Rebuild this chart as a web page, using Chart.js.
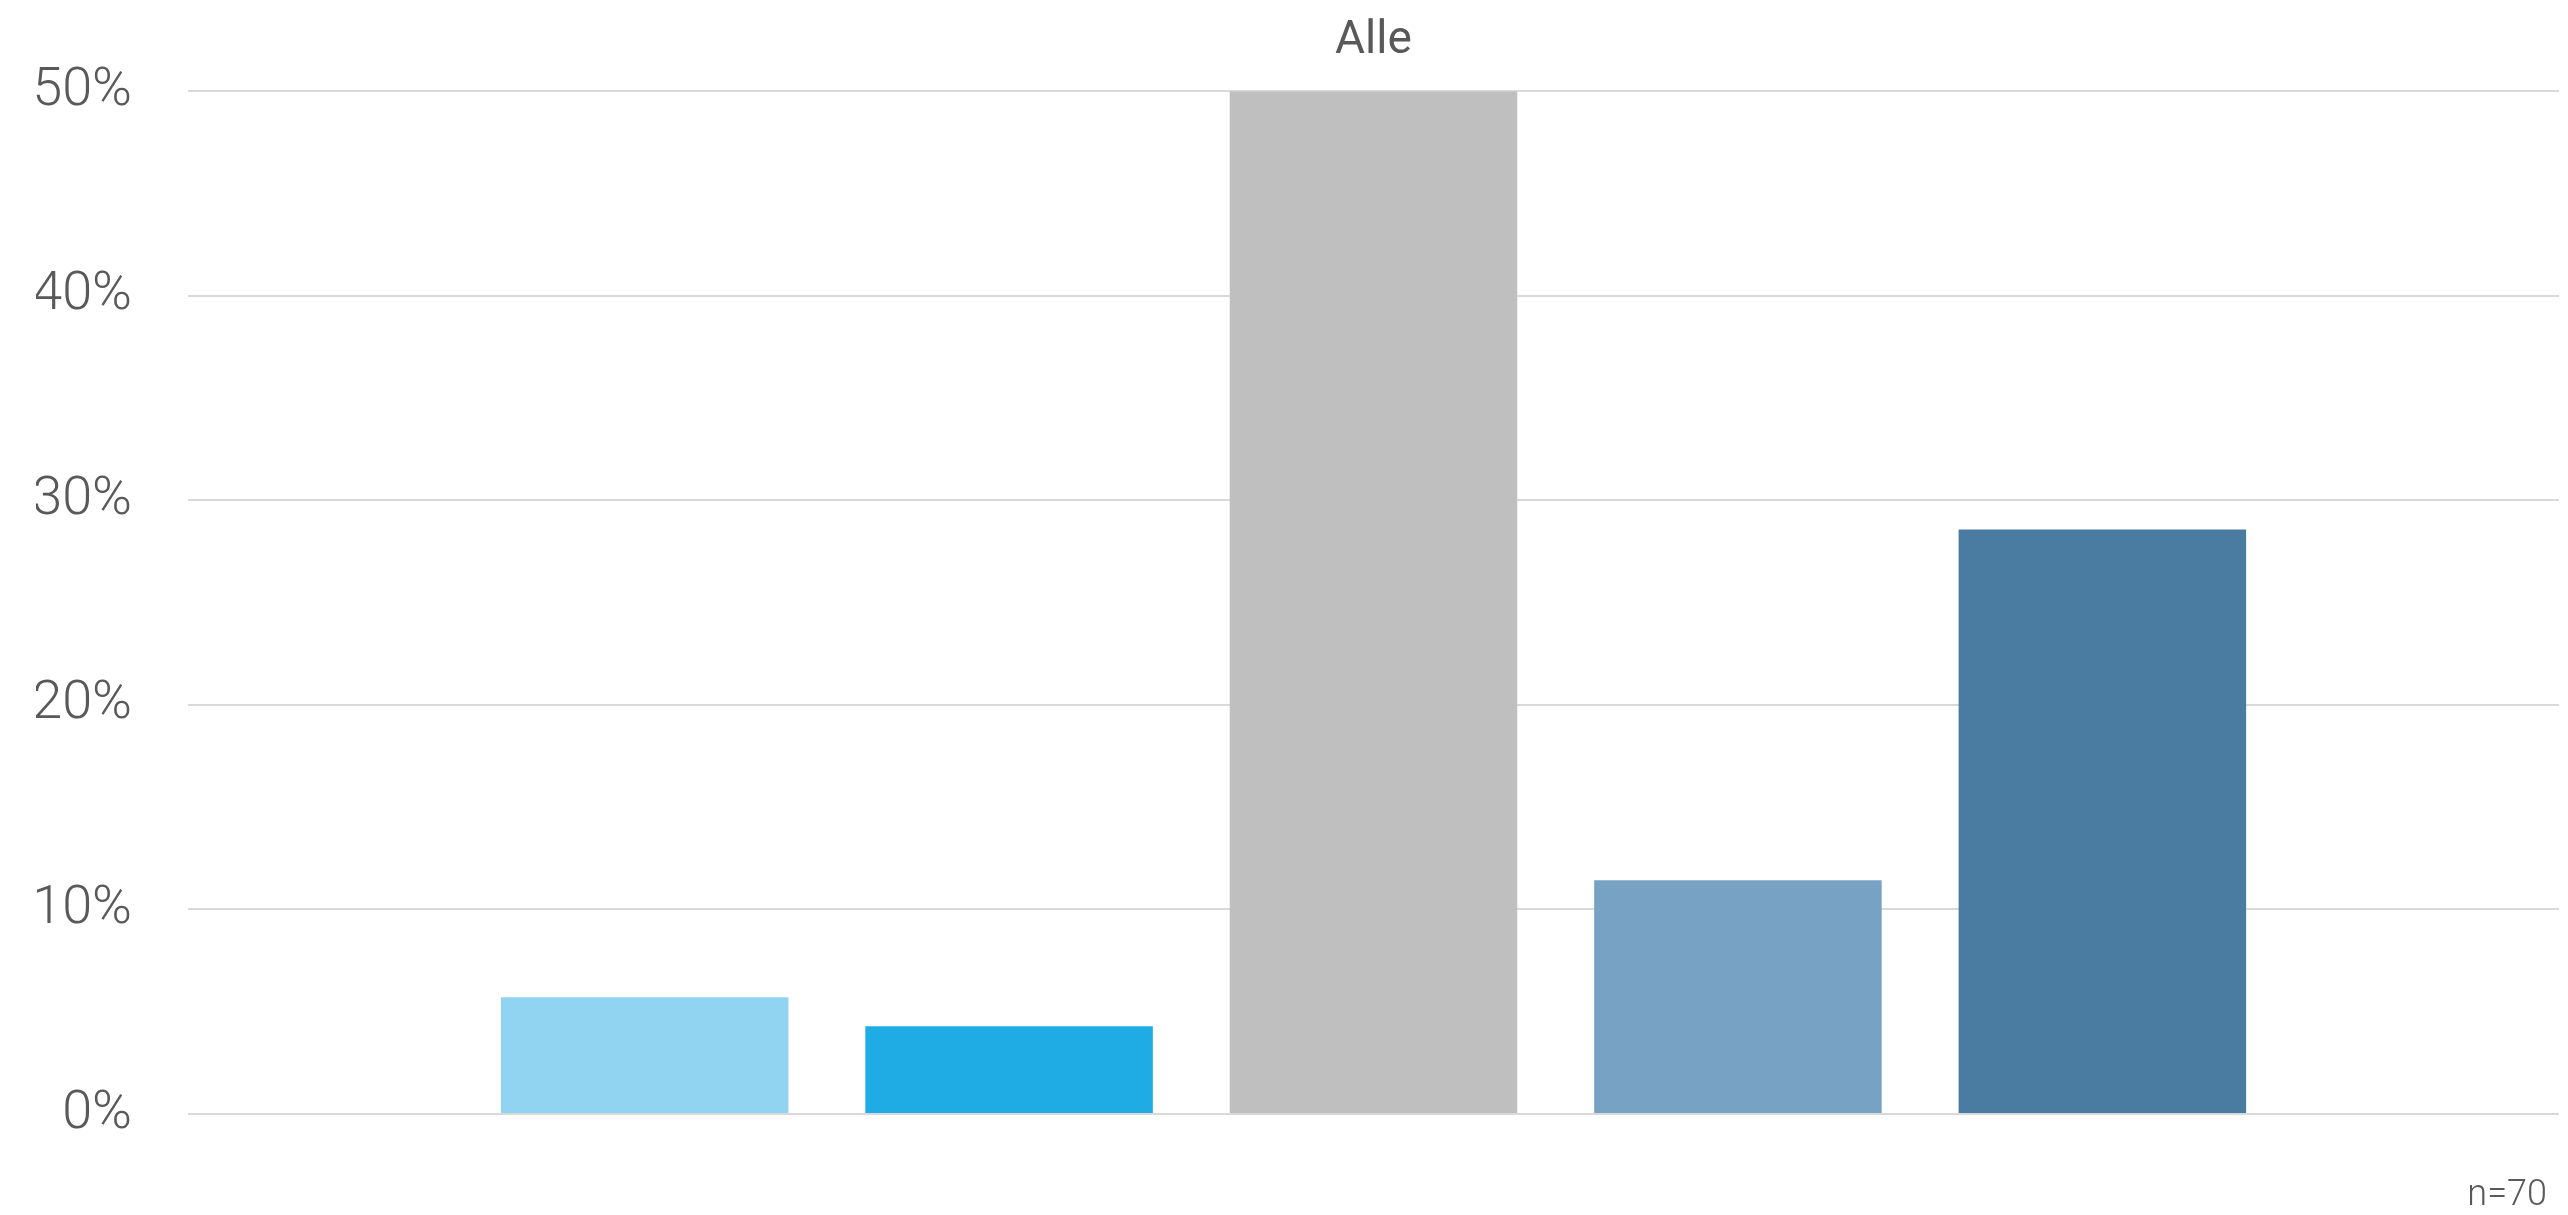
<!DOCTYPE html>
<html>
<head>
<meta charset="utf-8">
<script src="https://cdn.jsdelivr.net/npm/chart.js@4/dist/chart.umd.min.js"></script>
<style>
    html, body { margin: 0; padding: 0; background: #ffffff; }
    #wrap { width: 2568px; height: 1215px; position: relative; }
</style>
</head>
<body>
<div id="wrap"><canvas id="chart"></canvas></div>
<script>
    // data (percent of n=70)
    var categories = ['Alle'];
    var seriesLabels = ['1', '2', '3', '4', '5'];
    var seriesValues = [5.71, 4.29, 50.0, 11.43, 28.57];
    var seriesColors = ['#91d4f1', '#1fabe3', '#bfbfbf', '#78a2c3', '#4a7ba0'];
    var yTicks = [0, 10, 20, 30, 40, 50];
    var sampleNote = 'n=70';

    var textColor = '#595959';
    var gridColor = '#d9d9d9';

    var datasets = seriesLabels.map(function (label, i) {
        return {
            label: label,
            data: [seriesValues[i]],
            backgroundColor: seriesColors[i],
            categoryPercentage: 0.7685,
            barPercentage: 0.789
        };
    });

    // small "n=70" note under the plot, bottom right
    var notePlugin = {
        id: 'sampleNote',
        afterDraw: function (chart) {
            var ctx = chart.ctx;
            var area = chart.chartArea;
            ctx.save();
            ctx.font = '300 36px Roboto';
            ctx.fillStyle = textColor;
            ctx.textAlign = 'right';
            ctx.textBaseline = 'middle';
            ctx.fillText(sampleNote, area.right - 12, area.bottom + 82);
            ctx.restore();
        }
    };

    new Chart(document.getElementById('chart').getContext('2d'), {
        type: 'bar',
        data: { labels: categories, datasets: datasets },
        options: {
            responsive: true,
            maintainAspectRatio: false,
            animation: false,
            layout: { padding: { left: 36, right: 9, top: 0, bottom: 101 } },
            plugins: {
                legend: { display: false },
                tooltip: { enabled: false },
                title: {
                    display: true,
                    text: categories[0],
                    fullSize: false,
                    color: textColor,
                    font: { family: 'Roboto', size: 46, weight: '400' },
                    padding: { top: 14, bottom: 22 }
                }
            },
            scales: {
                x: { display: false },
                y: {
                    min: yTicks[0],
                    max: yTicks[yTicks.length - 1],
                    afterBuildTicks: function (axis) {
                        axis.ticks = yTicks.map(function (v) { return { value: v }; });
                    },
                    afterFit: function (axis) {
                        axis.width = 152;
                    },
                    border: { display: false },
                    grid: { color: gridColor, lineWidth: 2, drawTicks: false },
                    ticks: {
                        padding: 56,
                        color: textColor,
                        font: { family: 'Roboto', size: 54, weight: '300' },
                        callback: function (v) { return v + '%'; }
                    }
                }
            }
        },
        plugins: [notePlugin]
    });
</script>
</body>
</html>
